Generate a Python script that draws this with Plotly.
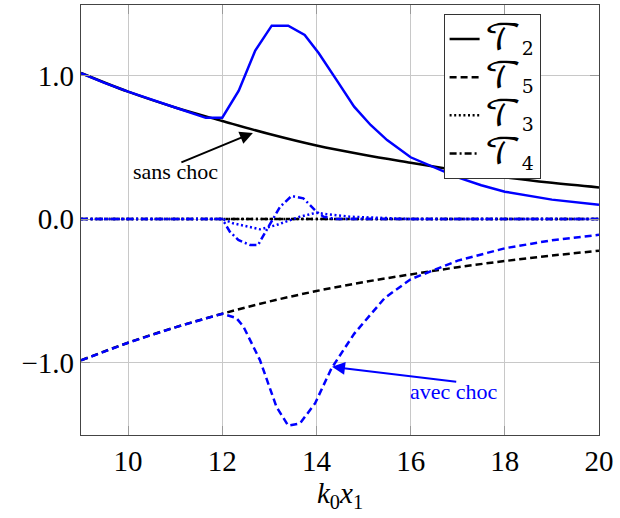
import plotly.graph_objects as go

# ---- data ----
x_ref = [9, 10, 11, 12, 13, 14, 15, 16, 17, 18, 19, 20]
T2_ref = [1.017, 0.887, 0.777, 0.683, 0.592, 0.512, 0.448, 0.392, 0.338, 0.290, 0.252, 0.220]
T5_ref = [-0.985, -0.862, -0.755, -0.660, -0.575, -0.502, -0.440, -0.386, -0.336, -0.293, -0.255, -0.221]
T3_ref = [0.0] * len(x_ref)
T4_ref = [0.0] * len(x_ref)

x_T2s = [9, 9.5, 10, 10.5, 11, 11.65, 12.0, 12.35, 12.7, 13.05, 13.4, 13.75, 14.05, 14.45, 14.8,
         15.15, 15.5, 16.0, 16.4, 17.0, 17.5, 18.0, 19.0, 20.0]
T2_shock = [1.017, 0.948, 0.887, 0.830, 0.777, 0.705, 0.706, 0.894, 1.173, 1.347, 1.347, 1.282, 1.155,
            0.957, 0.783, 0.655, 0.550, 0.430, 0.372, 0.290, 0.235, 0.190, 0.135, 0.100]

x_T5s = [9, 10, 11, 12, 12.3, 12.45, 12.8, 13.15, 13.4, 13.65, 13.97, 14.32, 14.8, 15.45, 16.0,
         16.45, 17.0, 18.0, 19.0, 20.0]
T5_shock = [-0.985, -0.862, -0.755, -0.660, -0.690, -0.750, -0.983, -1.308, -1.440, -1.424, -1.285,
            -1.040, -0.800, -0.550, -0.420, -0.360, -0.290, -0.204, -0.148, -0.110]

x_T3s = [9, 12.0, 12.23, 12.8, 13.15, 13.65, 14.0, 14.22, 14.71, 15.4, 16.0, 20]
T3_shock = [0, 0, -0.030, -0.072, -0.042, 0.016, 0.044, 0.033, 0.016, 0.005, 0, 0]

x_T4s = [9, 12.0, 12.16, 12.34, 12.59, 12.76, 12.94, 13.23, 13.47, 13.72, 13.86, 14.0, 14.15, 14.4, 20]
T4_shock = [0, 0, -0.088, -0.146, -0.181, -0.181, -0.077, 0.086, 0.160, 0.144, 0.098, 0.051, 0.016, 0, 0]

x_ticks = [10, 12, 14, 16, 18, 20]
y_ticks = [-1.0, 0.0, 1.0]
y_ticklabels = ["\u22121.0", "0.0", "1.0"]

subs = ["2", "5", "3", "4"]
names = ['<span style="font-size:36px">\U0001D4AF</span><sub>%s</sub>' % s for s in subs]

FONT = "Liberation Serif, DejaVu Serif, serif"
LW = 2.5
DASH = "7px,4px"
DOT = "2px,2.6px"
DASHDOT = "7px,3px,2px,3px"

fig = go.Figure()
# reference (black) curves
fig.add_trace(go.Scatter(x=x_ref, y=T2_ref, mode="lines", name=names[0],
                         line=dict(color="black", width=LW, shape="spline")))
fig.add_trace(go.Scatter(x=x_ref, y=T5_ref, mode="lines", name=names[1],
                         line=dict(color="black", width=LW, dash=DASH, shape="spline")))
fig.add_trace(go.Scatter(x=x_ref, y=T3_ref, mode="lines", name=names[2],
                         line=dict(color="black", width=LW, dash=DOT)))
fig.add_trace(go.Scatter(x=x_ref, y=T4_ref, mode="lines", name=names[3],
                         line=dict(color="black", width=LW, dash=DASHDOT)))
# with shock (blue)
BLUE = "#0000ff"
fig.add_trace(go.Scatter(x=x_T2s, y=T2_shock, mode="lines", showlegend=False,
                         line=dict(color=BLUE, width=LW)))
fig.add_trace(go.Scatter(x=x_T5s, y=T5_shock, mode="lines", showlegend=False,
                         line=dict(color=BLUE, width=LW, dash=DASH)))
fig.add_trace(go.Scatter(x=x_T3s, y=T3_shock, mode="lines", showlegend=False,
                         line=dict(color=BLUE, width=LW, dash=DOT)))
fig.add_trace(go.Scatter(x=x_T4s, y=T4_shock, mode="lines", showlegend=False,
                         line=dict(color=BLUE, width=LW, dash=DASHDOT)))

# annotations
fig.add_annotation(x=12.65, y=0.60, ax=11.10, ay=0.39, axref="x", ayref="y",
                   text="", showarrow=True, arrowhead=2, arrowsize=1.3,
                   arrowwidth=2, arrowcolor="black")
fig.add_annotation(x=11.0, y=0.33, text="sans choc", showarrow=False,
                   font=dict(family=FONT, size=22, color="black"))
fig.add_annotation(x=14.33, y=-1.03, ax=17.0, ay=-1.135, axref="x", ayref="y",
                   text="", showarrow=True, arrowhead=2, arrowsize=1.3,
                   arrowwidth=2, arrowcolor=BLUE)
fig.add_annotation(x=16.92, y=-1.205, text="avec choc", showarrow=False,
                   font=dict(family=FONT, size=22, color=BLUE))

fig.update_layout(
    width=620, height=518,
    margin=dict(l=81, r=21, t=5, b=83),
    paper_bgcolor="white", plot_bgcolor="white",
    font=dict(family=FONT, size=29, color="black"),
    showlegend=True,
    legend=dict(x=0.70, y=0.979, xanchor="left", yanchor="top",
                bgcolor="white", bordercolor="#333", borderwidth=1,
                font=dict(family="DejaVu Math TeX Gyre, " + FONT, size=27),
                tracegroupgap=0),
)
fig.update_xaxes(range=[9, 20], tickvals=x_ticks, showgrid=True, gridcolor="#c8c8c8", gridwidth=1,
                 showline=True, linecolor="#444", linewidth=1.2, mirror="ticks",
                 ticks="inside", ticklen=9, tickcolor="#999", zeroline=False,
                 title=dict(text="<i>k</i><sub>0</sub><i>x</i><sub>1</sub>", standoff=6,
                            font=dict(family=FONT, size=29)))
fig.update_yaxes(range=[-1.505, 1.491], tickvals=y_ticks, ticktext=y_ticklabels,
                 showgrid=True, gridcolor="#c8c8c8", gridwidth=1,
                 showline=True, linecolor="#444", linewidth=1.2, mirror="ticks",
                 ticks="inside", ticklen=9, tickcolor="#999", zeroline=False)

fig.write_html("out.html", config={"displayModeBar": False},
               post_script="document.body.style.margin='0';")
